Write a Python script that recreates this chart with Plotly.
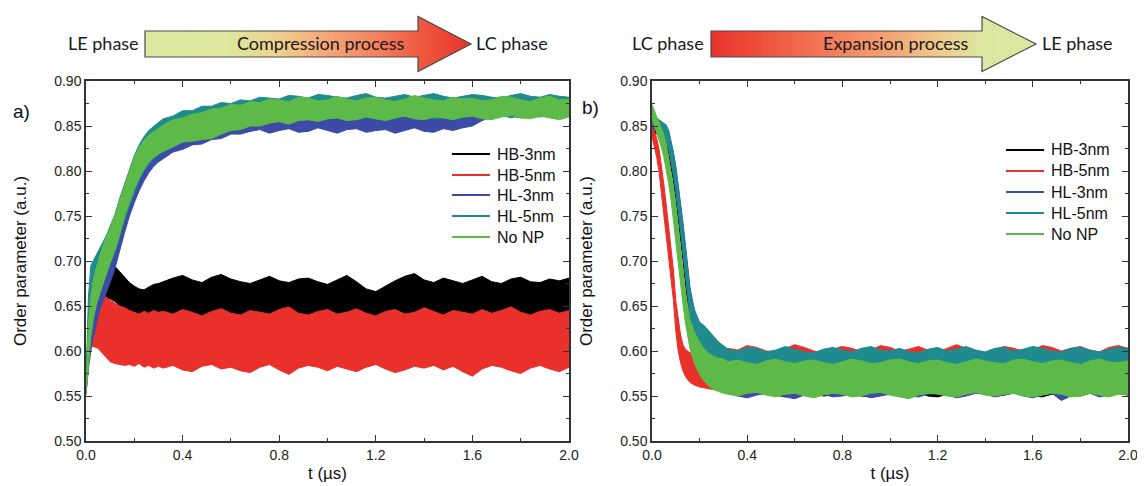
import plotly.graph_objects as go

# the page is drawn inside the default 8px body margin
OFF = 8
FW, FH = 1145 - OFF, 486 - OFF

names = ['HB-3nm', 'HB-5nm', 'HL-3nm', 'HL-5nm', 'No NP']
colors = ['#000000', '#e9302a', '#3b4ba6', '#1f8b8f', '#5dba48']

# ---- a) compression: time grid (us) and band edges (lower / upper)
t_comp = [0, 0.01, 0.02, 0.03, 0.04, 0.05, 0.06, 0.07, 0.08, 0.09, 0.10,
          0.12, 0.14, 0.16, 0.18, 0.20, 0.22, 0.24, 0.26, 0.28, 0.30,
          0.32, 0.36, 0.40, 0.44, 0.48, 0.52, 0.56, 0.60, 0.64, 0.68,
          0.72, 0.76, 0.80, 0.84, 0.88, 0.92, 0.96, 1.00, 1.04, 1.08,
          1.12, 1.16, 1.20, 1.24, 1.28, 1.32, 1.36, 1.40, 1.44, 1.48,
          1.52, 1.56, 1.60, 1.64, 1.68, 1.72, 1.76, 1.80, 1.84, 1.88,
          1.92, 1.96, 2.00]

hb3_comp_lo = [0.552, 0.590, 0.610, 0.625, 0.635, 0.642, 0.648, 0.652, 0.655, 0.657, 0.658,
               0.655, 0.650, 0.645, 0.640, 0.636, 0.633, 0.632, 0.633, 0.634, 0.634,
               0.634, 0.637, 0.633, 0.631, 0.636, 0.638, 0.634, 0.632, 0.635, 0.636,
               0.632, 0.634, 0.637, 0.635, 0.631, 0.633, 0.636, 0.637, 0.634, 0.632,
               0.629, 0.628, 0.631, 0.634, 0.636, 0.633, 0.632, 0.635, 0.637, 0.633,
               0.631, 0.634, 0.636, 0.635, 0.632, 0.630, 0.634, 0.636, 0.633, 0.631,
               0.635, 0.632, 0.634]
hb3_comp_hi = [0.560, 0.630, 0.650, 0.665, 0.672, 0.680, 0.685, 0.690, 0.692, 0.695, 0.696,
               0.694, 0.688, 0.682, 0.676, 0.672, 0.669, 0.668, 0.671, 0.674, 0.675,
               0.677, 0.681, 0.684, 0.679, 0.676, 0.682, 0.685, 0.680, 0.677, 0.675,
               0.679, 0.683, 0.678, 0.676, 0.680, 0.681, 0.677, 0.674, 0.679, 0.684,
               0.677, 0.669, 0.666, 0.672, 0.678, 0.683, 0.686, 0.679, 0.676, 0.681,
               0.678, 0.675, 0.679, 0.683, 0.677, 0.675, 0.680, 0.682, 0.677, 0.676,
               0.680, 0.678, 0.681]

hb5_comp_lo = [0.552, 0.600, 0.605, 0.605, 0.604, 0.603, 0.600, 0.597, 0.594, 0.591, 0.588,
               0.586, 0.585, 0.584, 0.585, 0.583, 0.586, 0.582, 0.584, 0.581, 0.583,
               0.581, 0.584, 0.579, 0.577, 0.583, 0.585, 0.580, 0.582, 0.578, 0.576,
               0.582, 0.585, 0.579, 0.574, 0.581, 0.584, 0.582, 0.578, 0.583, 0.580,
               0.577, 0.582, 0.585, 0.580, 0.576, 0.579, 0.583, 0.581, 0.584, 0.579,
               0.583, 0.577, 0.572, 0.580, 0.584, 0.582, 0.578, 0.575, 0.581, 0.584,
               0.580, 0.577, 0.582]
hb5_comp_hi = [0.560, 0.640, 0.655, 0.660, 0.662, 0.665, 0.664, 0.662, 0.660, 0.658, 0.656,
               0.653, 0.650, 0.648, 0.645, 0.643, 0.641, 0.644, 0.642, 0.645, 0.643,
               0.644, 0.641, 0.646, 0.643, 0.639, 0.644, 0.647, 0.642, 0.640, 0.645,
               0.643, 0.641, 0.646, 0.649, 0.642, 0.640, 0.644, 0.646, 0.641, 0.643,
               0.647, 0.642, 0.639, 0.644, 0.646, 0.641, 0.643, 0.648, 0.644, 0.640,
               0.645, 0.643, 0.641, 0.646, 0.642, 0.645, 0.649, 0.643, 0.640, 0.644,
               0.646, 0.642, 0.645]

hl3_comp_lo = [0.552, 0.580, 0.600, 0.615, 0.628, 0.638, 0.648, 0.655, 0.662, 0.668, 0.676,
               0.692, 0.712, 0.732, 0.750, 0.765, 0.778, 0.789, 0.798, 0.805, 0.810,
               0.814, 0.821, 0.824, 0.829, 0.830, 0.835, 0.836, 0.841, 0.841, 0.844,
               0.846, 0.842, 0.845, 0.847, 0.843, 0.844, 0.848, 0.845, 0.842, 0.846,
               0.847, 0.843, 0.845, 0.846, 0.842, 0.845, 0.848, 0.844, 0.843, 0.847,
               0.845, 0.848, 0.850, 0.856, 0.860, 0.863, 0.861, 0.859, 0.862, 0.864,
               0.861, 0.860, 0.863]
hl3_comp_hi = [0.560, 0.620, 0.645, 0.660, 0.672, 0.682, 0.690, 0.697, 0.703, 0.709, 0.716,
               0.732, 0.752, 0.770, 0.786, 0.800, 0.812, 0.822, 0.829, 0.835, 0.839,
               0.843, 0.846, 0.852, 0.853, 0.857, 0.858, 0.861, 0.862, 0.865, 0.864,
               0.866, 0.868, 0.865, 0.864, 0.867, 0.869, 0.866, 0.865, 0.868, 0.866,
               0.864, 0.867, 0.869, 0.866, 0.865, 0.868, 0.867, 0.864, 0.866, 0.869,
               0.867, 0.866, 0.871, 0.875, 0.878, 0.879, 0.877, 0.876, 0.879, 0.878,
               0.877, 0.879, 0.878]

hl5_comp_lo = [0.555, 0.600, 0.630, 0.645, 0.655, 0.662, 0.670, 0.677, 0.684, 0.690, 0.697,
               0.710, 0.728, 0.746, 0.762, 0.777, 0.790, 0.800, 0.808, 0.814, 0.818,
               0.824, 0.830, 0.834, 0.836, 0.838, 0.840, 0.843, 0.846, 0.849, 0.851,
               0.853, 0.855, 0.857, 0.856, 0.858, 0.860, 0.857, 0.859, 0.861, 0.858,
               0.860, 0.862, 0.858, 0.860, 0.859, 0.861, 0.859, 0.861, 0.858, 0.860,
               0.862, 0.859, 0.861, 0.863, 0.860, 0.862, 0.859, 0.862, 0.861, 0.860,
               0.862, 0.861, 0.862]
hl5_comp_hi = [0.565, 0.660, 0.695, 0.700, 0.705, 0.710, 0.716, 0.720, 0.726, 0.732, 0.738,
               0.752, 0.770, 0.786, 0.802, 0.817, 0.829, 0.838, 0.845, 0.850, 0.854,
               0.858, 0.861, 0.867, 0.867, 0.872, 0.872, 0.876, 0.875, 0.879, 0.878,
               0.882, 0.881, 0.880, 0.884, 0.883, 0.881, 0.885, 0.884, 0.882, 0.881,
               0.884, 0.886, 0.882, 0.881, 0.883, 0.885, 0.882, 0.884, 0.886, 0.883,
               0.881, 0.883, 0.885, 0.884, 0.882, 0.881, 0.884, 0.886, 0.883, 0.882,
               0.885, 0.883, 0.882]

nonp_comp_lo = [0.552, 0.585, 0.615, 0.635, 0.648, 0.658, 0.668, 0.676, 0.684, 0.690, 0.698,
                0.712, 0.730, 0.750, 0.766, 0.780, 0.792, 0.802, 0.810, 0.815, 0.819,
                0.822, 0.827, 0.832, 0.833, 0.835, 0.836, 0.841, 0.845, 0.846, 0.850,
                0.850, 0.853, 0.855, 0.852, 0.856, 0.857, 0.855, 0.858, 0.859, 0.856,
                0.857, 0.860, 0.858, 0.856, 0.859, 0.861, 0.858, 0.857, 0.860, 0.859,
                0.857, 0.860, 0.861, 0.858, 0.857, 0.860, 0.862, 0.859, 0.858, 0.861,
                0.859, 0.857, 0.860]
nonp_comp_hi = [0.560, 0.630, 0.660, 0.678, 0.690, 0.700, 0.710, 0.717, 0.724, 0.730, 0.737,
                0.752, 0.768, 0.785, 0.800, 0.815, 0.826, 0.834, 0.840, 0.844, 0.848,
                0.851, 0.857, 0.859, 0.863, 0.865, 0.869, 0.870, 0.874, 0.873, 0.877,
                0.876, 0.880, 0.879, 0.877, 0.882, 0.881, 0.878, 0.879, 0.883, 0.880,
                0.878, 0.881, 0.882, 0.879, 0.877, 0.880, 0.884, 0.881, 0.879, 0.878,
                0.882, 0.880, 0.881, 0.878, 0.879, 0.883, 0.882, 0.879, 0.877, 0.881,
                0.883, 0.879, 0.880]

# ---- b) expansion
t_exp = [0, 0.01, 0.02, 0.03, 0.04, 0.05, 0.06, 0.07, 0.08, 0.09, 0.10,
         0.11, 0.12, 0.13, 0.14, 0.15, 0.16,
         0.18, 0.20, 0.22, 0.24, 0.26, 0.28, 0.30,
         0.32, 0.36, 0.40, 0.44, 0.48, 0.52, 0.56, 0.60, 0.64, 0.68,
         0.72, 0.76, 0.80, 0.84, 0.88, 0.92, 0.96, 1.00, 1.04, 1.08,
         1.12, 1.16, 1.20, 1.24, 1.28, 1.32, 1.36, 1.40, 1.44, 1.48,
         1.52, 1.56, 1.60, 1.64, 1.68, 1.72, 1.76, 1.80, 1.84, 1.88,
         1.92, 1.96, 2.00]

hb3_exp_lo = [0.845, 0.843, 0.841, 0.839, 0.837, 0.834, 0.829, 0.820, 0.806, 0.789, 0.770,
              0.749, 0.726, 0.701, 0.676, 0.651, 0.630,
              0.603, 0.587, 0.577, 0.569, 0.564, 0.561, 0.558,
              0.553, 0.551, 0.550, 0.553, 0.554, 0.551, 0.549, 0.552, 0.554, 0.553,
              0.550, 0.551, 0.554, 0.552, 0.550, 0.549, 0.553, 0.554, 0.551, 0.552,
              0.554, 0.550, 0.549, 0.552, 0.553, 0.551, 0.554, 0.552, 0.550, 0.551,
              0.554, 0.553, 0.550, 0.549, 0.552, 0.554, 0.551, 0.550, 0.553, 0.552,
              0.550, 0.553, 0.551]
hb3_exp_hi = [0.858, 0.856, 0.854, 0.852, 0.851, 0.849, 0.846, 0.840, 0.829, 0.815, 0.798,
              0.778, 0.757, 0.733, 0.708, 0.682, 0.659,
              0.632, 0.617, 0.610, 0.604, 0.600, 0.597, 0.596,
              0.593, 0.590, 0.594, 0.592, 0.589, 0.593, 0.595, 0.591, 0.590, 0.594,
              0.592, 0.589, 0.591, 0.594, 0.593, 0.590, 0.592, 0.595, 0.591, 0.589,
              0.593, 0.594, 0.590, 0.592, 0.595, 0.591, 0.589, 0.593, 0.594, 0.590,
              0.592, 0.594, 0.591, 0.589, 0.593, 0.595, 0.590, 0.592, 0.594, 0.591,
              0.590, 0.593, 0.592]

hb5_exp_lo = [0.838, 0.828, 0.815, 0.798, 0.778, 0.755, 0.730, 0.705, 0.680, 0.656, 0.622,
              0.600, 0.587, 0.578, 0.572, 0.568, 0.565,
              0.562, 0.560, 0.559, 0.558, 0.557, 0.558, 0.557,
              0.557, 0.556, 0.558, 0.555, 0.554, 0.557, 0.558, 0.556, 0.554, 0.555,
              0.558, 0.557, 0.555, 0.554, 0.556, 0.558, 0.557, 0.555, 0.554, 0.557,
              0.558, 0.556, 0.555, 0.557, 0.558, 0.555, 0.554, 0.556, 0.558, 0.557,
              0.555, 0.554, 0.557, 0.558, 0.556, 0.555, 0.557, 0.558, 0.554, 0.556,
              0.557, 0.555, 0.556]
hb5_exp_hi = [0.852, 0.845, 0.836, 0.824, 0.806, 0.785, 0.762, 0.738, 0.714, 0.690, 0.656,
              0.635, 0.618, 0.607, 0.602, 0.600, 0.598,
              0.598, 0.600, 0.599, 0.601, 0.600, 0.602, 0.601,
              0.603, 0.601, 0.606, 0.604, 0.600, 0.599, 0.603, 0.607, 0.604, 0.600,
              0.598, 0.602, 0.605, 0.603, 0.599, 0.601, 0.606, 0.604, 0.600, 0.602,
              0.605, 0.601, 0.599, 0.603, 0.607, 0.603, 0.600, 0.598, 0.602, 0.605,
              0.603, 0.600, 0.601, 0.606, 0.604, 0.600, 0.603, 0.605, 0.601, 0.599,
              0.604, 0.606, 0.603]

hl3_exp_lo = [0.850, 0.846, 0.844, 0.842, 0.840, 0.836, 0.832, 0.824, 0.812, 0.796, 0.778,
              0.758, 0.737, 0.713, 0.688, 0.663, 0.642,
              0.612, 0.594, 0.583, 0.574, 0.568, 0.563, 0.560,
              0.553, 0.550, 0.548, 0.551, 0.553, 0.552, 0.549, 0.547, 0.551, 0.553,
              0.552, 0.549, 0.550, 0.553, 0.551, 0.548, 0.550, 0.552, 0.553, 0.550,
              0.549, 0.552, 0.553, 0.551, 0.548, 0.550, 0.553, 0.552, 0.549, 0.551,
              0.553, 0.550, 0.548, 0.551, 0.553, 0.545, 0.550, 0.552, 0.553, 0.549,
              0.551, 0.553, 0.552]
hl3_exp_hi = [0.863, 0.859, 0.857, 0.855, 0.854, 0.852, 0.849, 0.844, 0.834, 0.821, 0.805,
              0.786, 0.766, 0.743, 0.719, 0.693, 0.670,
              0.642, 0.628, 0.620, 0.612, 0.606, 0.601, 0.598,
              0.594, 0.592, 0.595, 0.593, 0.590, 0.592, 0.595, 0.594, 0.591, 0.593,
              0.595, 0.592, 0.590, 0.593, 0.595, 0.594, 0.591, 0.592, 0.595, 0.593,
              0.590, 0.592, 0.594, 0.595, 0.591, 0.593, 0.595, 0.592, 0.590, 0.594,
              0.595, 0.592, 0.591, 0.594, 0.593, 0.590, 0.592, 0.595, 0.593, 0.591,
              0.594, 0.592, 0.593]

hl5_exp_lo = [0.855, 0.850, 0.847, 0.845, 0.842, 0.838, 0.834, 0.825, 0.812, 0.796, 0.778,
              0.757, 0.735, 0.710, 0.685, 0.660, 0.640,
              0.615, 0.600, 0.592, 0.586, 0.582, 0.579, 0.577,
              0.576, 0.574, 0.577, 0.576, 0.573, 0.575, 0.577, 0.574, 0.573, 0.576,
              0.577, 0.575, 0.573, 0.574, 0.577, 0.576, 0.574, 0.573, 0.576, 0.577,
              0.575, 0.573, 0.576, 0.577, 0.574, 0.575, 0.577, 0.576, 0.573, 0.574,
              0.577, 0.575, 0.574, 0.576, 0.577, 0.573, 0.575, 0.577, 0.576, 0.574,
              0.573, 0.576, 0.575]
hl5_exp_hi = [0.868, 0.862, 0.859, 0.857, 0.856, 0.854, 0.851, 0.845, 0.834, 0.820, 0.803,
              0.784, 0.764, 0.740, 0.715, 0.688, 0.665,
              0.645, 0.632, 0.628, 0.622, 0.615, 0.610, 0.606,
              0.602, 0.600, 0.604, 0.603, 0.599, 0.601, 0.605, 0.602, 0.599, 0.598,
              0.602, 0.604, 0.601, 0.599, 0.603, 0.605, 0.601, 0.600, 0.603, 0.599,
              0.598, 0.602, 0.604, 0.600, 0.602, 0.605, 0.601, 0.599, 0.603, 0.604,
              0.600, 0.602, 0.605, 0.603, 0.600, 0.599, 0.603, 0.604, 0.601, 0.599,
              0.602, 0.604, 0.603]

nonp_exp_lo = [0.860, 0.850, 0.842, 0.835, 0.826, 0.815, 0.802, 0.786, 0.768, 0.748, 0.726,
               0.702, 0.676, 0.652, 0.632, 0.615, 0.602,
               0.585, 0.574, 0.566, 0.561, 0.557, 0.555, 0.553,
               0.552, 0.550, 0.553, 0.554, 0.551, 0.549, 0.552, 0.553, 0.550, 0.548,
               0.551, 0.553, 0.552, 0.549, 0.550, 0.553, 0.554, 0.551, 0.549, 0.547,
               0.551, 0.553, 0.552, 0.550, 0.549, 0.552, 0.554, 0.551, 0.550, 0.552,
               0.553, 0.550, 0.549, 0.551, 0.553, 0.552, 0.549, 0.550, 0.553, 0.551,
               0.549, 0.552, 0.551]
nonp_exp_hi = [0.874, 0.866, 0.860, 0.854, 0.848, 0.840, 0.830, 0.815, 0.800, 0.782, 0.762,
               0.740, 0.716, 0.690, 0.666, 0.648, 0.635,
               0.620, 0.610, 0.602, 0.597, 0.594, 0.592, 0.591,
               0.588, 0.590, 0.587, 0.585, 0.589, 0.591, 0.588, 0.586, 0.589, 0.590,
               0.587, 0.585, 0.588, 0.591, 0.589, 0.586, 0.587, 0.590, 0.591, 0.588,
               0.586, 0.589, 0.590, 0.587, 0.585, 0.588, 0.591, 0.589, 0.587, 0.586,
               0.590, 0.591, 0.588, 0.586, 0.589, 0.590, 0.587, 0.585, 0.589, 0.591,
               0.588, 0.587, 0.589]

comp_bands = [(hb3_comp_lo, hb3_comp_hi), (hb5_comp_lo, hb5_comp_hi), (hl3_comp_lo, hl3_comp_hi),
              (hl5_comp_lo, hl5_comp_hi), (nonp_comp_lo, nonp_comp_hi)]
exp_bands = [(hb3_exp_lo, hb3_exp_hi), (hb5_exp_lo, hb5_exp_hi), (hl3_exp_lo, hl3_exp_hi),
             (hl5_exp_lo, hl5_exp_hi), (nonp_exp_lo, nonp_exp_hi)]

for lo, hi in comp_bands:
    assert len(lo) == len(hi) == len(t_comp), (len(lo), len(hi))
for lo, hi in exp_bands:
    assert len(lo) == len(hi) == len(t_exp), (len(lo), len(hi))

fig = go.Figure()


def band(t, lo, hi, color, xa, ya):
    # the noisy trajectory drawn as its filled envelope
    return go.Scatter(x=t + t[::-1], y=hi + lo[::-1], fill='toself', fillcolor=color,
                      mode='lines', line=dict(color=color, width=1), hoverinfo='skip',
                      showlegend=False, xaxis=xa, yaxis=ya)


for (lo, hi), c in zip(comp_bands, colors):
    fig.add_trace(band(t_comp, lo, hi, c, 'x', 'y'))
for (lo, hi), c in zip(exp_bands, colors):
    fig.add_trace(band(t_exp, lo, hi, c, 'x2', 'y2'))


# page pixel -> paper fraction
def px(x):
    return (x - OFF) / FW


def py(y):
    return 1 - (y - OFF) / FH


AX = '#333333'
FONT = 'Arial, Liberation Sans, sans-serif'

xcommon = dict(range=[0, 2.0], dtick=0.4, tick0=0, tickformat='.1f', showline=True, linecolor=AX,
               linewidth=1.5, mirror='ticks', ticks='inside', ticklen=6, tickwidth=1.3, tickcolor=AX,
               showgrid=False, zeroline=False, automargin=False,
               tickfont=dict(family=FONT, size=14, color='#222'),
               minor=dict(ticks='inside', dtick=0.2, ticklen=3.5, tickwidth=1.3, tickcolor=AX),
               title=dict(text='t (\u00b5s)', font=dict(family=FONT, size=17, color='#111'), standoff=6))
ycommon = dict(range=[0.5, 0.9], dtick=0.05, tick0=0.5, tickformat='.2f', showline=True, linecolor=AX,
               linewidth=1.5, mirror='ticks', ticks='inside', ticklen=6, tickwidth=1.3, tickcolor=AX,
               showgrid=False, zeroline=False, automargin=False,
               tickfont=dict(family=FONT, size=14, color='#222'),
               minor=dict(ticks='inside', dtick=0.025, ticklen=3.5, tickwidth=1.3, tickcolor=AX),
               title=dict(text='Order parameter (a.u.)', font=dict(family=FONT, size=17, color='#111'),
                          standoff=23))

ydom = [py(441), py(81)]
fig.update_layout(
    width=FW, height=FH, margin=dict(l=0, r=0, t=0, b=0),
    paper_bgcolor='white', plot_bgcolor='white', showlegend=False,
    xaxis=dict(xcommon, domain=[px(86), px(569)], anchor='y'),
    yaxis=dict(ycommon, domain=ydom, anchor='x'),
    xaxis2=dict(xcommon, domain=[px(652), px(1128)], anchor='y2'),
    yaxis2=dict(ycommon, domain=ydom, anchor='x2'),
)

shapes = []
annos = []

# legends: line sample + label, one block per panel
for lx, rows in [(452, [154, 175, 195, 216, 237]), (1006, [150, 171, 192, 213, 234])]:
    for nm, c, ry in zip(names, colors, rows):
        shapes.append(dict(type='line', xref='paper', yref='paper', x0=px(lx), x1=px(lx + 38),
                           y0=py(ry), y1=py(ry), line=dict(color=c, width=2)))
        annos.append(dict(x=px(lx + 43), y=py(ry), xref='paper', yref='paper', text=nm,
                          showarrow=False, xanchor='left', yanchor='middle',
                          font=dict(family=FONT, size=16, color='#111')))

# panel letters
annos.append(dict(x=px(21), y=py(111), xref='paper', yref='paper', text='a)', showarrow=False,
                  xanchor='center', yanchor='middle', font=dict(family=FONT, size=19, color='#111')))
annos.append(dict(x=px(590), y=py(107), xref='paper', yref='paper', text='b)', showarrow=False,
                  xanchor='center', yanchor='middle', font=dict(family=FONT, size=19, color='#111')))


# ---- process arrows on top (gradient approximated with thin strips)
def hex2rgb(h):
    h = h.lstrip('#')
    return [int(h[i:i + 2], 16) for i in (0, 2, 4)]


def grad(stops, f):
    for (f0, c0), (f1, c1) in zip(stops[:-1], stops[1:]):
        if f <= f1:
            a = 0 if f1 == f0 else (f - f0) / (f1 - f0)
            r0, r1 = hex2rgb(c0), hex2rgb(c1)
            return 'rgb(%d,%d,%d)' % tuple(round(r0[k] + (r1[k] - r0[k]) * a) for k in range(3))
    return stops[-1][1]


def arrow(x0, hx, tx, yc, rh, hh, stops):
    out = []
    span = tx - x0
    x = x0
    while x < hx:
        x1 = min(x + 3, hx)
        col = grad(stops, ((x + x1) / 2 - x0) / span)
        out.append(dict(type='rect', xref='paper', yref='paper', x0=px(x), x1=px(min(x1 + 0.7, hx)),
                        y0=py(yc + rh), y1=py(yc - rh), fillcolor=col, line=dict(width=0), layer='below'))
        x = x1

    def half(xx):
        return hh * (tx - xx) / (tx - hx)

    x = hx
    while x < tx:
        x1 = min(x + 2, tx)
        x1e = min(x1 + 0.7, tx)
        col = grad(stops, ((x + x1) / 2 - x0) / span)
        path = 'M%f,%f L%f,%f L%f,%f L%f,%f Z' % (px(x), py(yc - half(x)), px(x1e), py(yc - half(x1e)),
                                                  px(x1e), py(yc + half(x1e)), px(x), py(yc + half(x)))
        out.append(dict(type='path', xref='paper', yref='paper', path=path, fillcolor=col,
                        line=dict(width=0), layer='below'))
        x = x1
    outline = 'M%f,%f L%f,%f L%f,%f L%f,%f L%f,%f L%f,%f L%f,%f Z' % (
        px(x0), py(yc - rh), px(hx), py(yc - rh), px(hx), py(yc - hh), px(tx), py(yc),
        px(hx), py(yc + hh), px(hx), py(yc + rh), px(x0), py(yc + rh))
    out.append(dict(type='path', xref='paper', yref='paper', path=outline,
                    line=dict(color='#4a4a4a', width=1.2), fillcolor='rgba(0,0,0,0)'))
    return out


comp_stops = [(0.0, '#dce89f'), (0.25, '#dee79d'), (0.40, '#ecd28f'), (0.55, '#f5a878'),
              (0.70, '#f58560'), (0.85, '#ee5840'), (1.0, '#e8332b')]
exp_stops = [(0.0, '#e8332b'), (0.15, '#ee4f3c'), (0.35, '#f37a58'), (0.55, '#f5a373'),
             (0.72, '#eecf8f'), (0.83, '#dde6a0'), (1.0, '#dce89f')]

shapes += arrow(145, 418, 471, 44, 13, 27.5, comp_stops)
shapes += arrow(711, 982, 1036, 44, 13, 27.5, exp_stops)

HEAD = 'Lato, Open Sans, sans-serif'
for txt, xc in [('LE phase', 103), ('Compression process', 321), ('LC phase', 512),
                ('LC phase', 668), ('Expansion process', 896), ('LE phase', 1077)]:
    annos.append(dict(x=px(xc), y=py(43), xref='paper', yref='paper', text=txt, showarrow=False,
                      xanchor='center', yanchor='middle', font=dict(family=HEAD, size=18, color='#1a1a1a')))

fig.update_layout(shapes=shapes, annotations=annos)

fig.write_html('out.html')
